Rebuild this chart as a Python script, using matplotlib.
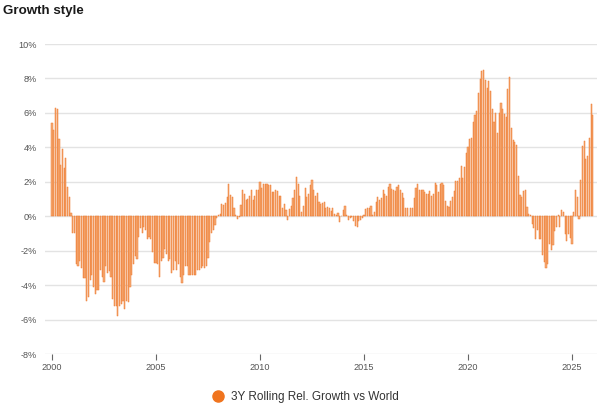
import matplotlib
matplotlib.use("Agg")
import matplotlib.pyplot as plt
from matplotlib.lines import Line2D
import numpy as np

plt.rcParams["font.family"] = ["Liberation Sans", "DejaVu Sans"]

# Monthly 3Y rolling relative growth vs World (%), starting Jan 2000
start_year = 2000
start_month = 1
rel_growth = [
    5.4, 5.0, 6.3, 6.2, 4.5, 3.0, 3.9, 2.8, 3.4, 1.7, 1.1, 0.2,
    -1.0, -1.0, -2.8, -2.9, -2.6, -3.0, -3.6, -3.6, -4.9, -4.7, -3.7, -3.4,
    -4.1, -4.5, -4.3, -4.3, -3.1, -3.5, -3.8, -2.9, -3.3, -3.2, -3.5, -4.8,
    -5.2, -5.2, -5.8, -5.2, -5.1, -4.9, -5.4, -4.9, -5.0, -4.1, -3.4, -2.8,
    -2.3, -2.5, -1.2, -0.7, -1.0, -0.6, -0.8, -1.3, -1.2, -1.3, -2.1, -2.7,
    -2.7, -2.8, -3.5, -2.6, -2.4, -1.9, -2.2, -2.6, -2.5, -3.3, -3.1, -2.6,
    -3.1, -2.8, -3.5, -3.9, -3.4, -2.9, -2.9, -3.4, -3.4, -3.4, -3.4, -3.4,
    -3.1, -3.1, -3.0, -2.9, -3.0, -2.9, -2.45, -1.5, -1.0, -0.8, -0.5, -0.1,
    0.1, 0.15, 0.7, 0.65, 0.75, 1.1, 1.85, 1.25, 1.1, 0.5, 0.1, -0.15,
    -0.05, 0.65, 1.5, 1.3, 0.95, 1.0, 1.2, 1.5, 0.95, 1.2, 1.5, 1.5,
    2.0, 1.65, 1.9, 1.9, 1.85, 1.8, 1.8, 1.4, 1.4, 1.5, 1.45, 1.15,
    1.15, 0.5, 0.7, 0.35, -0.2, 0.4, 0.6, 1.05, 1.55, 2.25, 1.85, 1.15,
    0.25, 0.6, 1.65, 1.1, 1.3, 1.8, 2.1, 1.5, 1.15, 1.35, 0.85, 0.7,
    0.75, 0.8, 0.5, 0.55, 0.5, 0.3, 0.5, 0.15, 0.1, 0.2, -0.35, 0.0,
    0.35, 0.6, 0.05, -0.2, -0.1, -0.05, -0.25, -0.55, -0.6, -0.3, -0.2, -0.1,
    0.05, 0.4, 0.45, 0.5, 0.6, 0.1, 0.25, 0.85, 1.1, 0.95, 1.05, 1.5,
    1.3, 1.15, 1.7, 1.85, 1.6, 1.5, 1.45, 1.7, 1.8, 1.5, 1.35, 1.05,
    0.45, 0.45, 0.0, 0.45, 0.5, 1.05, 1.65, 1.85, 1.5, 1.5, 1.55, 1.4,
    1.3, 1.3, 1.45, 1.2, 1.3, 1.95, 1.8, 1.4, 1.85, 1.95, 1.8, 0.9,
    0.6, 0.55, 0.9, 1.1, 1.45, 2.05, 2.05, 2.2, 2.9, 2.2, 2.85, 3.65,
    4.0, 4.5, 4.55, 5.45, 5.85, 6.1, 7.15, 7.95, 8.45, 8.5, 7.9, 7.45,
    7.85, 7.3, 6.25, 5.45, 6.0, 4.85, 6.0, 6.6, 6.2, 5.95, 5.75, 7.4,
    8.1, 5.15, 4.45, 4.3, 4.15, 2.35, 1.25, 1.1, 1.45, 1.55, 0.55, 0.15,
    0.05, -0.45, -0.7, -1.35, -0.8, -1.3, -1.35, -2.25, -2.65, -3.0, -2.8, -1.6,
    -1.95, -1.65, -0.85, -0.6, 0.1, -0.6, 0.35, 0.25, -1.05, -1.45, -1.05, -1.25,
    -1.6, 0.25, 1.55, 1.1, -0.15, 2.1, 4.05, 4.35, 3.3, 3.5, 4.55, 6.5,
    5.85,
]
year_ticks = [2000, 2005, 2010, 2015, 2020, 2025]
y_ticks = [-8, -6, -4, -2, 0, 2, 4, 6, 8, 10]
series_name = "3Y Rolling Rel. Growth vs World"
title = "Growth style"

x = start_year + (start_month - 1) / 12 + np.arange(len(rel_growth)) / 12.0

fig = plt.figure(figsize=(6.02, 4.08), dpi=100)
ax = fig.add_axes([45 / 602, 54 / 408, 552 / 602, 310 / 408])

ax.bar(x, rel_growth, width=0.056, color="#f5ab77", edgecolor="#ee7a2e",
       linewidth=0.35, zorder=3)

ax.set_ylim(-8, 10)
ax.set_xlim(1999.663, 2026.2)
ax.set_yticks(y_ticks)
ax.set_yticklabels([f"{v}%" for v in y_ticks])
ax.set_xticks(year_ticks)
ax.set_xticklabels([str(v) for v in year_ticks])
ax.grid(axis="y", color="#e3e3e3", linewidth=1.0, zorder=0)
ax.grid(axis="x", visible=False)
for s in ax.spines.values():
    s.set_visible(False)
ax.tick_params(axis="both", labelsize=6.6, labelcolor="#555555")
ax.tick_params(axis="y", length=0, pad=6)
ax.tick_params(axis="x", length=4.5, width=0.8, color="#666666", pad=2)

fig.text(3 / 602, 1 - 11 / 408, title, fontsize=9.6, fontweight="bold",
         color="#1a1a1a", va="center", ha="left")

handle = Line2D([], [], marker="o", linestyle="none", markersize=8,
                markerfacecolor="#f0741e", markeredgecolor="#f0741e")
fig.legend([handle], [series_name], loc="center", bbox_to_anchor=(0.502, 1 - 397 / 408),
           frameon=False, fontsize=8.5, handletextpad=0.1, labelcolor="#333333")

fig.savefig("out.png", dpi=100)
